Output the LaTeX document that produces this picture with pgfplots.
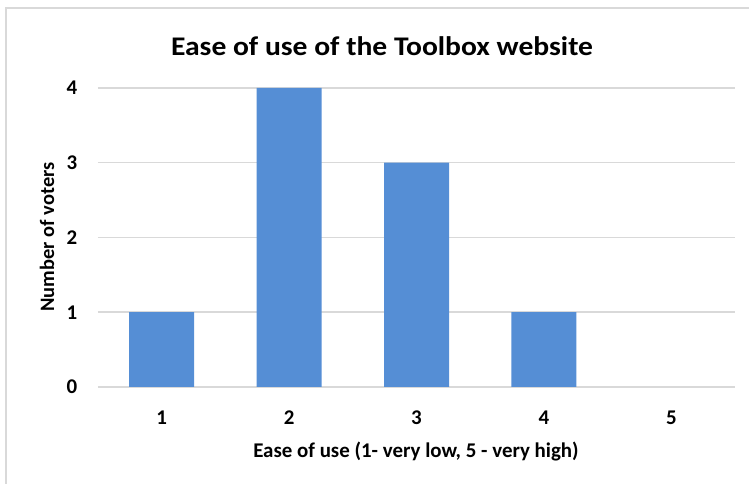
\documentclass[border=0pt]{standalone}
\usepackage{pgfplots}
\pgfplotsset{compat=1.18}
\usepackage{fontspec}
\setmainfont{Carlito}
\definecolor{barblue}{RGB}{85,142,213}
\definecolor{gridgray}{RGB}{217,217,217}
\begin{document}
\begin{tikzpicture}[x=1bp,y=1bp]
% outer frame and page size (1bp = 1px of the reference)
\path[use as bounding box] (-98,-97) rectangle (651,387);
\draw[gridgray, line width=2bp] (-92,-97) -- (-92,379) -- (651,379);
\begin{axis}[
    name=ax, at={(0,0)}, anchor=south west,
    scale only axis, width=637bp, height=299bp,
    xmin=0.5, xmax=5.5, ymin=0, ymax=4,
    ybar, bar width=65bp,
    xtick={1,2,3,4,5}, ytick={0,1,2,3,4},
    axis line style={draw=none},
    major tick length=0pt,
    ymajorgrids, grid style={gridgray, line width=1.5bp},
    /pgf/number format/assume math mode=true,
    tick label style={font=\bfseries\fontsize{21}{21}\selectfont, anchor=center},
    xticklabel style={yshift=-31bp},
    yticklabel style={xshift=-26bp},
    clip=false,
]
% category 5 has 0 voters
\addplot[fill=barblue, draw=none] coordinates {(1,1) (2,4) (3,3) (4,1)};
\end{axis}
\node[font=\bfseries\fontsize{27}{27}\selectfont] at (284,341) {\scalebox{1.1}[1]{Ease of use of the Toolbox website}};
\node[font=\bfseries\fontsize{21}{21}\selectfont] at (318,-65) {Ease of use (1- very low, 5 - very high)};
\node[font=\bfseries\fontsize{20.5}{20.5}\selectfont, rotate=90] at (-51,150) {Number of voters};
\end{tikzpicture}
\end{document}
